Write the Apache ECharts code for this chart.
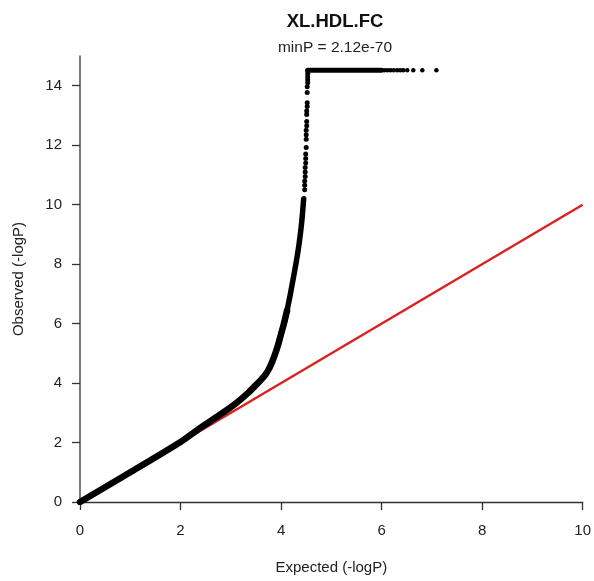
<!DOCTYPE html>
<html>
<head>
<meta charset="utf-8">
<script src="https://cdn.jsdelivr.net/npm/echarts@6/dist/echarts.min.js"></script>
<style>html,body{margin:0;padding:0;background:#fff}#c{width:594px;height:581px}</style>
</head>
<body>
<div id="c"></div>
<script>
var titleText = 'XL.HDL.FC';
var subtitleText = 'minP = 2.12e-70';
var xAxisName = 'Expected (-logP)';
var yAxisName = 'Observed (-logP)';
var xTicks = [0, 2, 4, 6, 8, 10];
var yTicks = [0, 2, 4, 6, 8, 10, 12, 14];

// main dense curve (expected, observed) - thick lower part
var curveX = [0, 1, 2, 2.4, 2.7, 3.05, 3.35, 3.55, 3.66, 3.74, 3.8, 3.87, 3.94, 4.0, 4.06, 4.12];
var curveY = [0, 1, 2.02, 2.5, 2.84, 3.25, 3.68, 4.02, 4.22, 4.42, 4.62, 4.92, 5.28, 5.65, 6.02, 6.45];

// thinner upper part of the curve
var upperX = [3.94, 4.0, 4.06, 4.12, 4.18, 4.24, 4.3, 4.36, 4.41, 4.45];
var upperY = [5.28, 5.65, 6.02, 6.45, 6.95, 7.5, 8.05, 8.7, 9.4, 10.2];

// upper column of separate points
var columnX = [4.47, 4.47, 4.47, 4.48, 4.48, 4.48, 4.49, 4.49, 4.49, 4.5, 4.5, 4.5, 4.5, 4.51, 4.51, 4.51, 4.51, 4.52, 4.52, 4.52, 4.52, 4.53, 4.53, 4.53, 4.53, 4.53];
var columnY = [10.5, 10.65, 10.8, 10.95, 11.1, 11.25, 11.4, 11.55, 11.7, 11.92, 12.2, 12.35, 12.5, 12.65, 12.8, 13.03, 13.15, 13.3, 13.43, 13.77, 13.97, 14.1, 14.2, 14.3, 14.4, 14.5];

// dense plateau (capped observed values)
var plateauX = [4.53, 6.0];
var plateauY = [14.52, 14.52];

// sparse tail points
var tailX = [6.06, 6.12, 6.18, 6.24, 6.31, 6.37, 6.43, 6.51, 6.63, 6.81, 7.09];
var tailY = [14.52, 14.52, 14.52, 14.52, 14.52, 14.52, 14.52, 14.52, 14.52, 14.52, 14.52];

// null line
var nullX = [0, 10];
var nullY = [0, 10];

function zip(a, b) { return a.map(function (v, i) { return [v, b[i]]; }); }

var FONT = 'Liberation Sans, Arial, sans-serif';
var chart = echarts.init(document.getElementById('c'), null, {renderer: 'canvas'});
chart.setOption({
  animation: false,
  backgroundColor: '#ffffff',
  textStyle: {fontFamily: FONT},
  title: {
    text: titleText,
    subtext: subtitleText,
    left: 330,
    top: 7,
    textAlign: 'center',
    itemGap: 9,
    textStyle: {fontFamily: FONT, fontSize: 18.5, fontWeight: 'bold', color: '#111'},
    subtextStyle: {fontFamily: FONT, fontSize: 15.5, color: '#222'}
  },
  grid: {left: 80, right: 11, top: 56, bottom: 79, containLabel: false},
  xAxis: {
    type: 'value', min: 0, max: 10, interval: 2,
    name: xAxisName, nameLocation: 'middle', nameGap: 58,
    nameTextStyle: {fontFamily: FONT, fontSize: 15, color: '#222'},
    axisLine: {show: true, onZero: false, lineStyle: {color: '#333', width: 1.3}},
    axisTick: {show: true, inside: false, length: 8, lineStyle: {color: '#333', width: 1.3}},
    axisLabel: {margin: 21, fontFamily: FONT, fontSize: 15, color: '#222', customValues: xTicks},
    splitLine: {show: false}
  },
  yAxis: {
    type: 'value', min: 0, max: 15,
    name: yAxisName, nameLocation: 'middle', nameGap: 54,
    nameTextStyle: {fontFamily: FONT, fontSize: 15, color: '#222'},
    axisLine: {show: true, onZero: false, lineStyle: {color: '#555', width: 1.6}},
    axisTick: {show: true, inside: false, length: 8, customValues: yTicks, lineStyle: {color: '#333', width: 1.3}},
    axisLabel: {margin: 18, fontFamily: FONT, fontSize: 15, color: '#222', customValues: yTicks},
    splitLine: {show: false}
  },
  series: [
    {
      type: 'line', data: zip(nullX, nullY), symbol: 'none', z: 1,
      lineStyle: {color: '#dc1f1f', width: 2.4}
    },
    {
      type: 'line', data: zip(curveX, curveY), symbol: 'none', smooth: 0.25, z: 3,
      lineStyle: {color: '#000', width: 6.5, cap: 'round', join: 'round'}
    },
    {
      type: 'line', data: zip(upperX, upperY), symbol: 'none', smooth: 0.25, z: 3,
      lineStyle: {color: '#000', width: 5.5, cap: 'round', join: 'round'}
    },
    {
      type: 'scatter', data: zip(columnX, columnY), symbol: 'circle', symbolSize: 5, z: 3,
      itemStyle: {color: '#000', opacity: 1}
    },
    {
      type: 'line', data: zip(plateauX, plateauY), symbol: 'none', z: 3,
      lineStyle: {color: '#000', width: 5, cap: 'round'}
    },
    {
      type: 'scatter', data: zip(tailX, tailY), symbol: 'circle', symbolSize: 4.5, z: 3,
      itemStyle: {color: '#000', opacity: 1}
    }
  ]
});
</script>
</body>
</html>
